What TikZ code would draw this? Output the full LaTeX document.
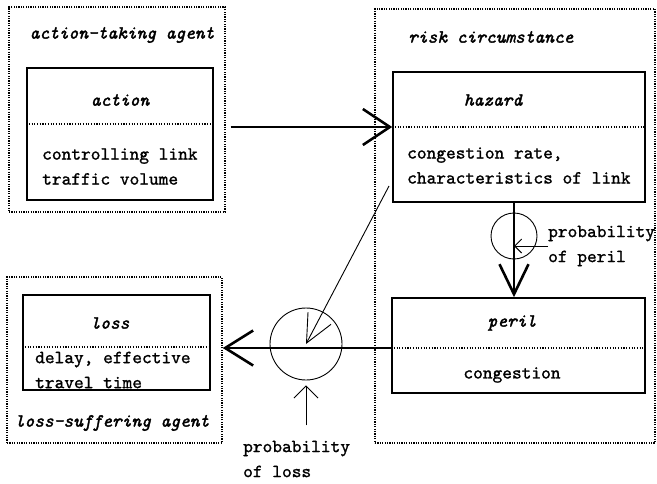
\documentclass[tikz,border=0pt]{standalone}
\usepackage{fontspec}
\setmonofont{lmmono10-regular.otf}[FakeBold=1.2,ItalicFont=lmmono10-italic.otf,ItalicFeatures={FakeBold=2}]
\usepackage{tikz}
\usetikzlibrary{arrows.meta}

\begin{document}
\begin{tikzpicture}[x=1pt,y=-1pt,
    outer/.style={draw,line width=1.4pt,dash pattern=on 1.2pt off 1.2pt,inner sep=0pt},
    box/.style={draw,line width=1.6pt,inner sep=0pt},
    divider/.style={line width=1.1pt,dash pattern=on 1.1pt off 1.6pt},
    txt/.style={font=\ttfamily\fontsize{18.5pt}{25pt}\selectfont,inner sep=0pt,align=left},
    ttl/.style={font=\ttfamily\itshape\fontsize{18.5pt}{25pt}\selectfont,inner sep=0pt},
    bigarrow/.style={line width=2.6pt,-{Straight Barb[length=27pt,width=36pt]}},
    thinarrow/.style={line width=0.9pt,-{Straight Barb[length=12pt,width=24pt]}}]
      \useasboundingbox (0,0) rectangle (657,483);

      \node[outer,minimum width=216pt,minimum height=205pt] (actagent) at (117,109.5) {};
      \node[outer,minimum width=280pt,minimum height=434pt] (riskcirc) at (515,226) {};
      \node[outer,minimum width=215pt,minimum height=166pt] (lossagent) at (114.5,360) {};

      \node[box,minimum width=186pt,minimum height=132pt] (action) at (120,134) {};
      \node[box,minimum width=252pt,minimum height=130pt] (hazard) at (519,137) {};
      \node[box,minimum width=253pt,minimum height=95pt] (peril) at (518.5,345.5) {};
      \node[box,minimum width=187pt,minimum height=95pt] (loss) at (116.5,342.5) {};

      \coordinate (actdiv) at (0,124);
      \coordinate (hazdiv) at (0,127);
      \coordinate (perdiv) at (0,348);
      \coordinate (lossdiv) at (0,347);
      \draw[divider] (action.west |- actdiv) -- (action.east |- actdiv);
      \draw[divider] (hazard.west |- hazdiv) -- (hazard.east |- hazdiv);
      \draw[divider] (peril.west |- perdiv) -- (peril.east |- perdiv);
      \draw[divider] (loss.west |- lossdiv) -- (loss.east |- lossdiv);

      \node[ttl] (acttitle) at (122,35) {action-taking agent};
      \node[ttl] (risktitle) [anchor=west] at (408,37) {risk circumstance};
      \node[ttl] (losstitle) at (112,423) {loss-suffering agent};

      \node[ttl] (actname) at (120,100) {action};
      \node[txt,anchor=west] (acttext) at (42,166.5) {controlling link\\traffic volume};
      \node[ttl] (hazname) at (493,100) {hazard};
      \node[txt,anchor=west] (haztext) at (407,165.5) {congestion rate,\\characteristics of link};
      \node[ttl] (pername) at (512,323) {peril};
      \node[txt] (pertext) at (512,375) {congestion};
      \node[ttl] (lossname) at (110,323) {loss};
      \node[txt,anchor=west] (losstext) at (35,370) {delay, effective\\travel time};

      \node[circle,draw,line width=0.9pt,minimum size=46pt,inner sep=0pt] (pperil) at (514,236) {};
      \node[circle,draw,line width=0.9pt,minimum size=72pt,inner sep=0pt] (ploss) at (306,344) {};
      \node[txt,anchor=west] (pperiltext) at (548,246) {probability\\of peril};
      \node[txt,anchor=west] (plosstext) at (243,459) {probability\\of loss};
      \coordinate (hzout) at (389,186);

      \draw[bigarrow] ([xshift=5pt]actagent.east |- hazdiv) -- (hazard.west |- hazdiv);
      \draw[line width=2.6pt,-{Straight Barb[length=30pt,width=29pt]}] (pperil |- hazard.south) -- (pperil |- peril.north);
      \draw[line width=0.9pt,-{Straight Barb[length=7pt,width=14pt]}] (pperiltext.west) -- (pperiltext.west -| pperil);
      \draw[line width=2.6pt,-{Straight Barb[length=28pt,width=35pt]}] (peril.west |- perdiv) -- (lossagent.east |- perdiv);
      \draw[line width=0.9pt,-{Straight Barb[length=28pt,width=26pt]}] (hzout) -- (ploss.center);
      \draw[thinarrow] ([yshift=-45pt]ploss.south) -- ([yshift=-5pt]ploss.south);
    \end{tikzpicture}
\end{document}
